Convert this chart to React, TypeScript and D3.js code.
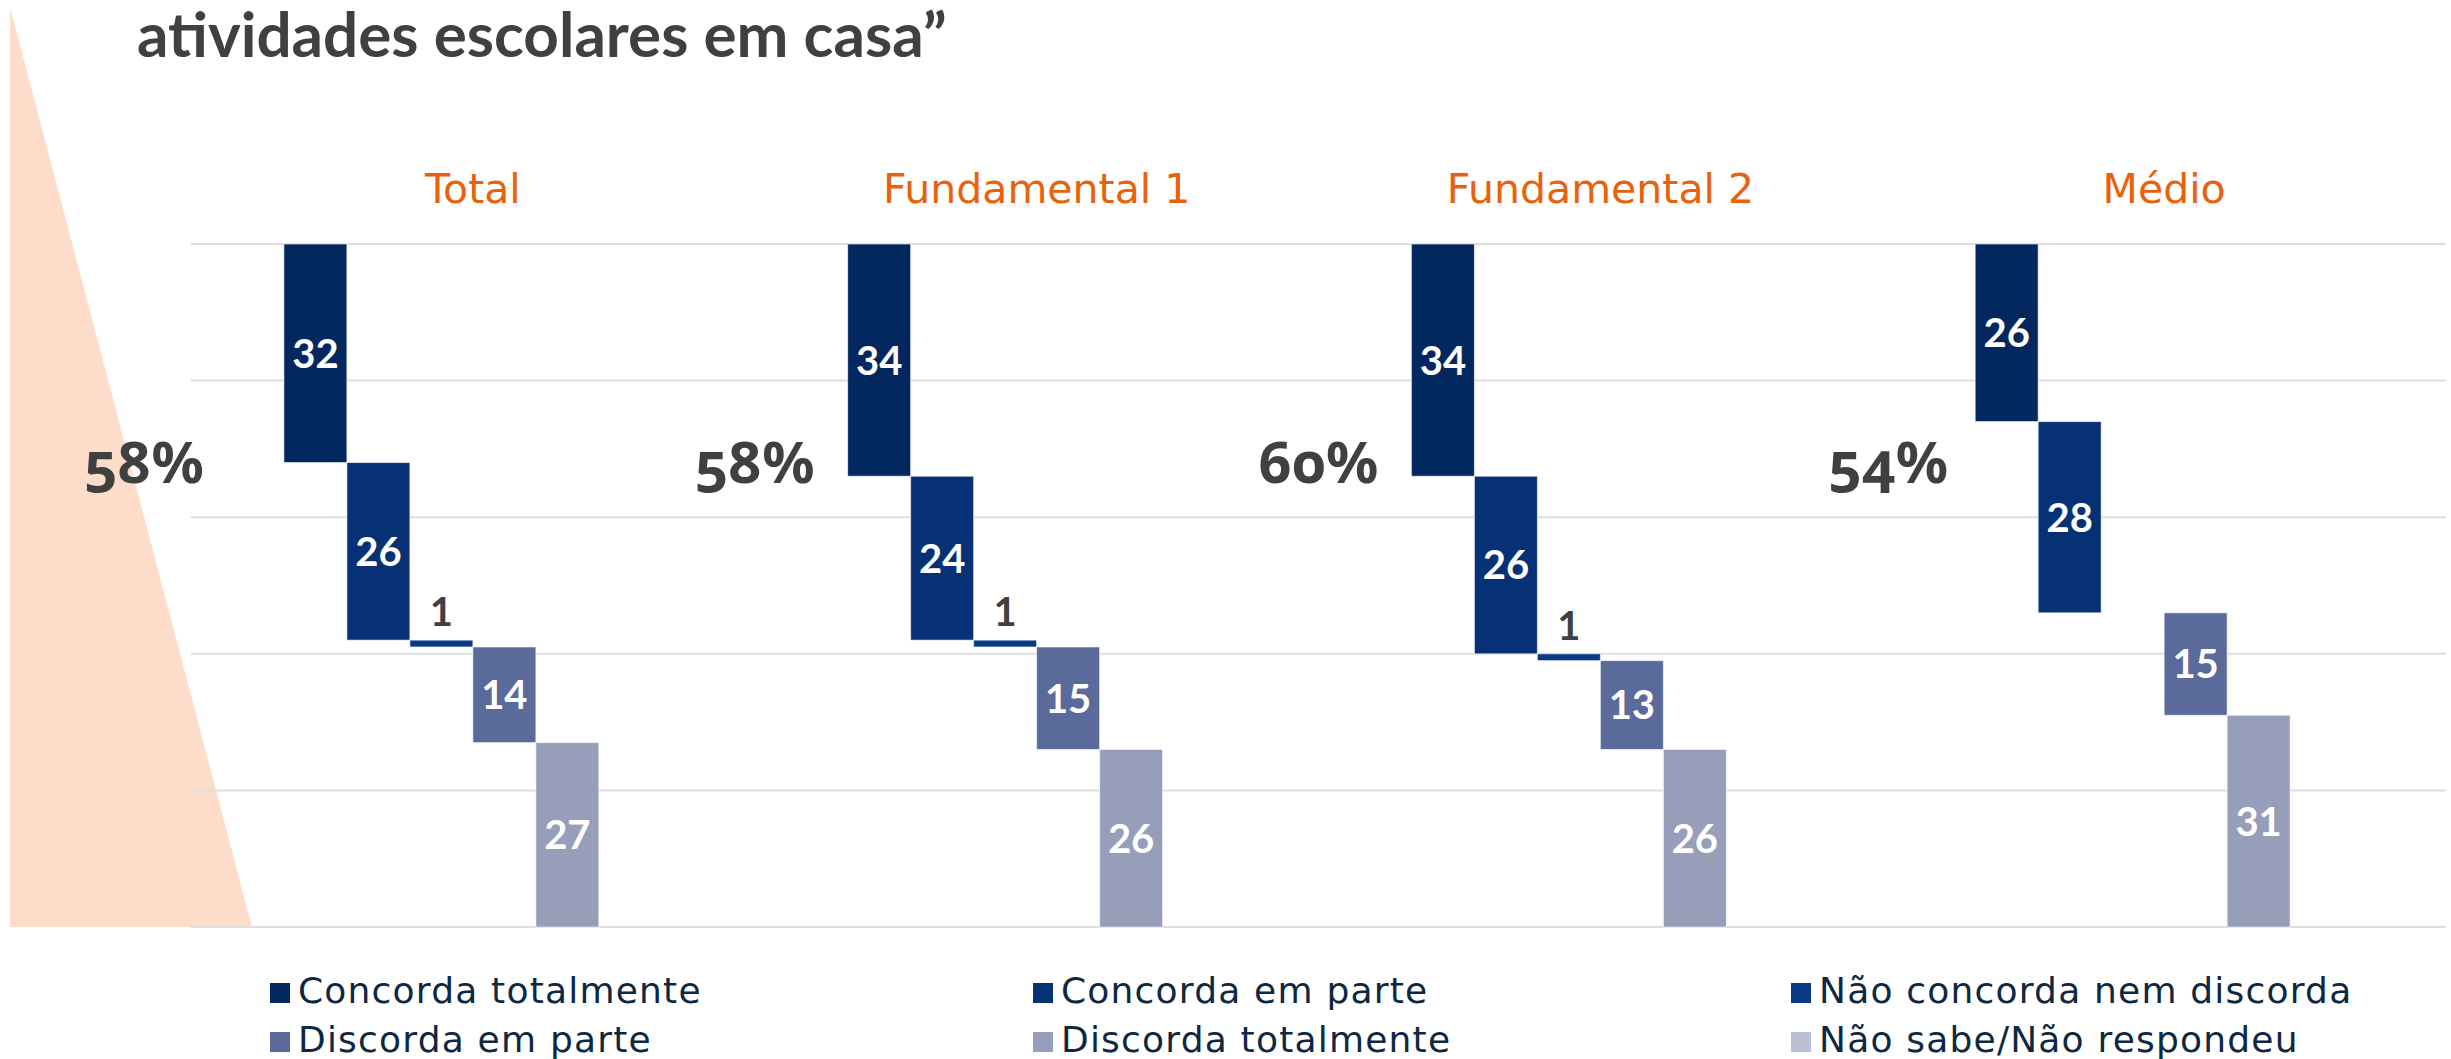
import React from "react";
import * as d3 from "d3";

const groups = ["Total", "Fundamental 1", "Fundamental 2", "Médio"];
const answers = [
  "Concorda totalmente",
  "Concorda em parte",
  "Não concorda nem discorda",
  "Discorda em parte",
  "Discorda totalmente",
  "Não sabe/Não respondeu",
];
const totalValues = [32, 26, 1, 14, 27, 0];
const fund1Values = [34, 24, 1, 15, 26, 0];
const fund2Values = [34, 26, 1, 13, 26, 0];
const medioValues = [26, 28, 0, 15, 31, 0];
const yTicks = [0, 20, 40, 60, 80, 100];
const titleText = "atividades escolares em casa”";

const colors = ["#03285F", "#063275", "#0A3A86", "#5A6A9A", "#979EBA", "#BCBFD3"];
const pctOffsets = [80, 33, 33, 27];

export default function App() {
  const W = 2451;
  const H = 1059;
  const seriesByGroup = [totalValues, fund1Values, fund2Values, medioValues];
  const gx = d3.scaleBand<string>().domain(groups).range([191, 2446]).padding(0);
  const ix = d3
    .scaleBand<string>()
    .domain(answers)
    .range([0, gx.bandwidth()])
    .paddingInner(0)
    .paddingOuter(1.475);
  const y = d3.scaleLinear().domain([0, 100]).range([244, 927]);
  const labelFont = "Lato, 'Open Sans', sans-serif";
  const pctFont = "'Noto Sans', Lato, sans-serif";
  const thinFont = "'DejaVu Sans', sans-serif";

  return (
    <svg
      width={W}
      height={H}
      style={{ position: "absolute", left: 0, top: 0, background: "#fff" }}
    >
      <polygon points={`10,7 252,${y(100)} 10,${y(100)}`} fill="#FDDDC9" />
      <text
        x={137}
        y={57}
        fontFamily={labelFont}
        fontWeight={700}
        fontSize={62}
        fill="#404040"
      >
        {titleText}
      </text>
      {yTicks.map((t) => (
        <line
          key={t}
          x1={191}
          x2={2446}
          y1={y(t)}
          y2={y(t)}
          stroke="#DEDEDE"
          strokeWidth={2}
        />
      ))}
      {groups.map((g, gi) => {
        const vals = seriesByGroup[gi];
        const gStart = gx(g)!;
        const starts = d3.cumsum([0, ...vals]);
        const pct = vals[0] + vals[1];
        return (
          <g key={g}>
            <text
              x={gStart + gx.bandwidth() / 2}
              y={203}
              textAnchor="middle"
              fontFamily={thinFont}
              fontWeight={400}
              fontSize={41}
              fill="#E8620C"
            >
              {g}
            </text>
            {vals.map((v, i) => {
              if (v <= 0) return null;
              const x0 = gStart + ix(answers[i])!;
              const y0 = y(starts[i]);
              const y1 = y(starts[i] + v);
              const big = v >= 5;
              return (
                <g key={i}>
                  <rect
                    x={x0}
                    y={y0}
                    width={ix.bandwidth()}
                    height={y1 - y0}
                    fill={colors[i]}
                    stroke="#ffffff"
                    strokeOpacity={0.6}
                    strokeWidth={1}
                  />
                  <text
                    x={x0 + ix.bandwidth() / 2}
                    y={big ? (y0 + y1) / 2 : y0 - 14}
                    dy={big ? "0.36em" : 0}
                    textAnchor="middle"
                    fontFamily={labelFont}
                    fontWeight={700}
                    fontSize={40}
                    fill={big ? "#ffffff" : "#404040"}
                  >
                    {v}
                  </text>
                </g>
              );
            })}
            <text
              x={gStart + ix(answers[0])! - pctOffsets[gi]}
              y={483}
              textAnchor="end"
              fontFamily={pctFont}
              fontWeight={700}
              fontSize={58}
              fill="#404040"
              style={{ fontVariantNumeric: "oldstyle-nums" }}
            >
              {pct}%
            </text>
          </g>
        );
      })}
      {answers.map((a, i) => {
        const col = i % 3;
        const row = Math.floor(i / 3);
        const lx = [270, 1033, 1791][col];
        const ly = 983 + row * 49;
        return (
          <g key={a}>
            <rect x={lx} y={ly} width={20} height={20} fill={colors[i]} />
            <text
              x={lx + 28}
              y={ly + 20}
              fontFamily={thinFont}
              fontWeight={400}
              fontSize={36}
              letterSpacing={1.2}
              fill="#0E2841"
            >
              {a}
            </text>
          </g>
        );
      })}
    </svg>
  );
}
